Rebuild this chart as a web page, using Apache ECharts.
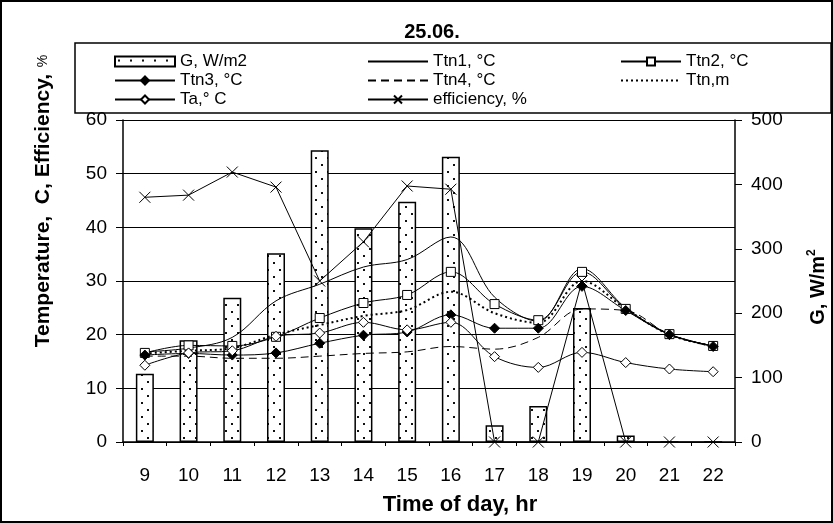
<!DOCTYPE html>
<html><head><meta charset="utf-8">
<script src="https://cdn.jsdelivr.net/npm/echarts@6/dist/echarts.min.js"></script>
<style>html,body{margin:0;padding:0;background:#fff}#c{width:833px;height:523px}</style>
</head><body><div id="c"></div>
<script>
const hours = ['9','10','11','12','13','14','15','16','17','18','19','20','21','22'];
const G     = [106, 158, 224, 293, 453, 332, 373, 443, 26, 56, 208, 10, 0, 0];
const Ttn1  = [16.8, 17.5, 19.5, 26.3, 29.4, 32.6, 34.0, 38.2, 27.0, 22.5, 32.3, 25.0, 20.1, 17.9];
const Ttn2  = [16.6, 18.0, 17.9, 19.6, 23.1, 25.9, 27.4, 31.7, 25.7, 22.7, 31.7, 24.8, 20.1, 17.9];
const Ttn3  = [16.2, 16.5, 16.2, 16.6, 18.4, 19.9, 20.5, 23.7, 21.2, 21.2, 29.0, 24.5, 20.0, 17.8];
const Ttn4  = [16.0, 16.0, 15.6, 15.6, 16.0, 16.5, 16.8, 17.8, 17.3, 19.5, 24.8, 24.5, 20.0, 17.8];
const Ttnm  = [16.5, 17.0, 17.5, 20.0, 21.8, 23.5, 24.6, 28.0, 24.0, 22.2, 30.0, 24.8, 20.0, 17.9];
const Ta    = [14.3, 16.6, 17.0, 19.7, 20.3, 22.3, 20.9, 22.3, 15.9, 13.9, 16.7, 14.8, 13.6, 13.1];
const Eff   = [45.6, 46.0, 50.3, 47.5, 30.0, 37.3, 47.7, 47.1, 0, 0, 30.0, 0, 0, 0];
const leftTicks = [0, 60, 10];
const rightTicks = [0, 500, 100];

const FF = '"Liberation Sans", Arial, sans-serif';
const pat = document.createElement('canvas');
pat.width = 12; pat.height = 14;
const pc = pat.getContext('2d');
pc.fillStyle = '#fff'; pc.fillRect(0,0,12,14);
pc.fillStyle = '#111'; pc.fillRect(3,3,2,2); pc.fillRect(9,10,2,2);

const noSym = {color:'rgba(0,0,0,0)', borderColor:'rgba(0,0,0,0)', borderWidth:0};
const chart = echarts.init(document.getElementById('c'), null, {renderer:'canvas'});
const lineBase = {type:'line', yAxisIndex:0, smooth:0.35, lineStyle:{color:'#000', width:1}, itemStyle:{color:'#000'}, z:3};
const legendText = {fontFamily: FF, fontSize: 17, color:'#000', lineHeight: 19};
const legendCommon = {orient:'vertical', itemGap:0, itemWidth:60, itemHeight:10, textStyle: legendText, selectedMode:false, padding:0};
chart.setOption({
  animation:false,
  backgroundColor:'#fff',
  grid:{left:123, right:98, top:120, bottom:81, containLabel:false},
  title:{text:'25.06.', left:427, top:17, textAlign:'center', textStyle:{fontFamily:FF, fontSize:20, fontWeight:'bold', color:'#000'}},
  legend:[
    Object.assign({left:114, top:52, data:[{name:'G, W/m2', icon:'rect'},'Ttn3, °C','Ta,° C']}, legendCommon),
    Object.assign({left:367, top:52, data:[{name:'Ttn1, °C', itemStyle:noSym},{name:'Ttn4, °C', itemStyle:noSym},'efficiency, %']}, legendCommon),
    Object.assign({left:620, top:52, data:['Ttn2, °C',{name:'Ttn,m', itemStyle:noSym}]}, legendCommon)
  ],
  xAxis:{type:'category', data:hours, boundaryGap:true,
    axisLine:{lineStyle:{color:'#000', width:1.5}},
    axisTick:{show:true, interval:0, length:4, lineStyle:{color:'#000'}},
    axisLabel:{fontFamily:FF, fontSize:19, color:'#000', margin:24, interval:0},
    splitLine:{show:false}},
  yAxis:[
    {type:'value', min:leftTicks[0], max:leftTicks[1], interval:leftTicks[2], position:'left',
     axisLine:{show:true, lineStyle:{color:'#000', width:1.5}},
     axisTick:{show:true, length:7, lineStyle:{color:'#000'}},
     axisLabel:{fontFamily:FF, fontSize:19, color:'#000', margin:16},
     splitLine:{show:true, lineStyle:{color:'#000', width:1}}},
    {type:'value', min:rightTicks[0], max:rightTicks[1], interval:rightTicks[2], position:'right',
     axisLine:{show:true, lineStyle:{color:'#000', width:1.5}},
     axisTick:{show:true, length:7, lineStyle:{color:'#000'}},
     axisLabel:{fontFamily:FF, fontSize:19, color:'#000', margin:16},
     splitLine:{show:false}}
  ],
  graphic:[
    {type:'rect', shape:{x:1, y:1, width:831, height:521}, style:{fill:'none', stroke:'#000', lineWidth:2}, z:0, silent:true},
    {type:'rect', shape:{x:75, y:43, width:756, height:70}, style:{fill:'none', stroke:'#000', lineWidth:1.5}, z:0, silent:true},
    {type:'text', x:43, y:201, rotation:Math.PI/2, silent:true,
     style:{text:'{b|Temperature,  C, Efficiency,}  {p|%}', align:'center', verticalAlign:'middle',
       rich:{b:{fontFamily:FF, fontSize:21, fontWeight:'bold', fill:'#000'}, p:{fontFamily:FF, fontSize:14, fill:'#000'}}}},
    {type:'text', x:818, y:287, rotation:Math.PI/2, silent:true,
     style:{text:'{b|G, W/m}{s|2}', align:'center', verticalAlign:'middle',
       rich:{b:{fontFamily:FF, fontSize:20, fontWeight:'bold', fill:'#000', lineHeight:24}, s:{fontFamily:FF, fontSize:12, fontWeight:'bold', fill:'#000', verticalAlign:'top', lineHeight:24, padding:[0,0,8,0]}}}},
    {type:'text', x:460, y:505, silent:true,
     style:{text:'Time of day, hr', align:'center', verticalAlign:'middle', fontFamily:FF, fontSize:22, fontWeight:'bold', fill:'#000'}}
  ],
  series:[
    {name:'G, W/m2', type:'bar', yAxisIndex:1, data:G, barWidth:18, z:2,
     itemStyle:{color:{image:pat, repeat:'repeat'}, borderColor:'#000', borderWidth:1.5}},
    Object.assign({}, lineBase, {name:'Ttn1, °C', data:Ttn1, symbol:'none'}),
    Object.assign({}, lineBase, {name:'Ttn2, °C', data:Ttn2, symbol:'rect', symbolSize:9, itemStyle:{color:'#fff', borderColor:'#000', borderWidth:1}}),
    Object.assign({}, lineBase, {name:'Ttn3, °C', data:Ttn3, symbol:'diamond', symbolSize:10, itemStyle:{color:'#000', borderColor:'#000', borderWidth:1}}),
    Object.assign({}, lineBase, {name:'Ttn4, °C', data:Ttn4, symbol:'none', lineStyle:{color:'#000', width:1, type:[8,5]}}),
    Object.assign({}, lineBase, {name:'Ttn,m', data:Ttnm, symbol:'none', lineStyle:{color:'#000', width:2, type:[2,3]}}),
    Object.assign({}, lineBase, {name:'Ta,° C', data:Ta, symbol:'diamond', symbolSize:10, itemStyle:{color:'#fff', borderColor:'#000', borderWidth:1}}),
    Object.assign({}, lineBase, {name:'efficiency, %', data:Eff, smooth:false, symbol:'path://M0,0L10,10M10,0L0,10', symbolSize:11, itemStyle:{color:'#000', borderColor:'#000', borderWidth:1}})
  ]
});
</script></body></html>
